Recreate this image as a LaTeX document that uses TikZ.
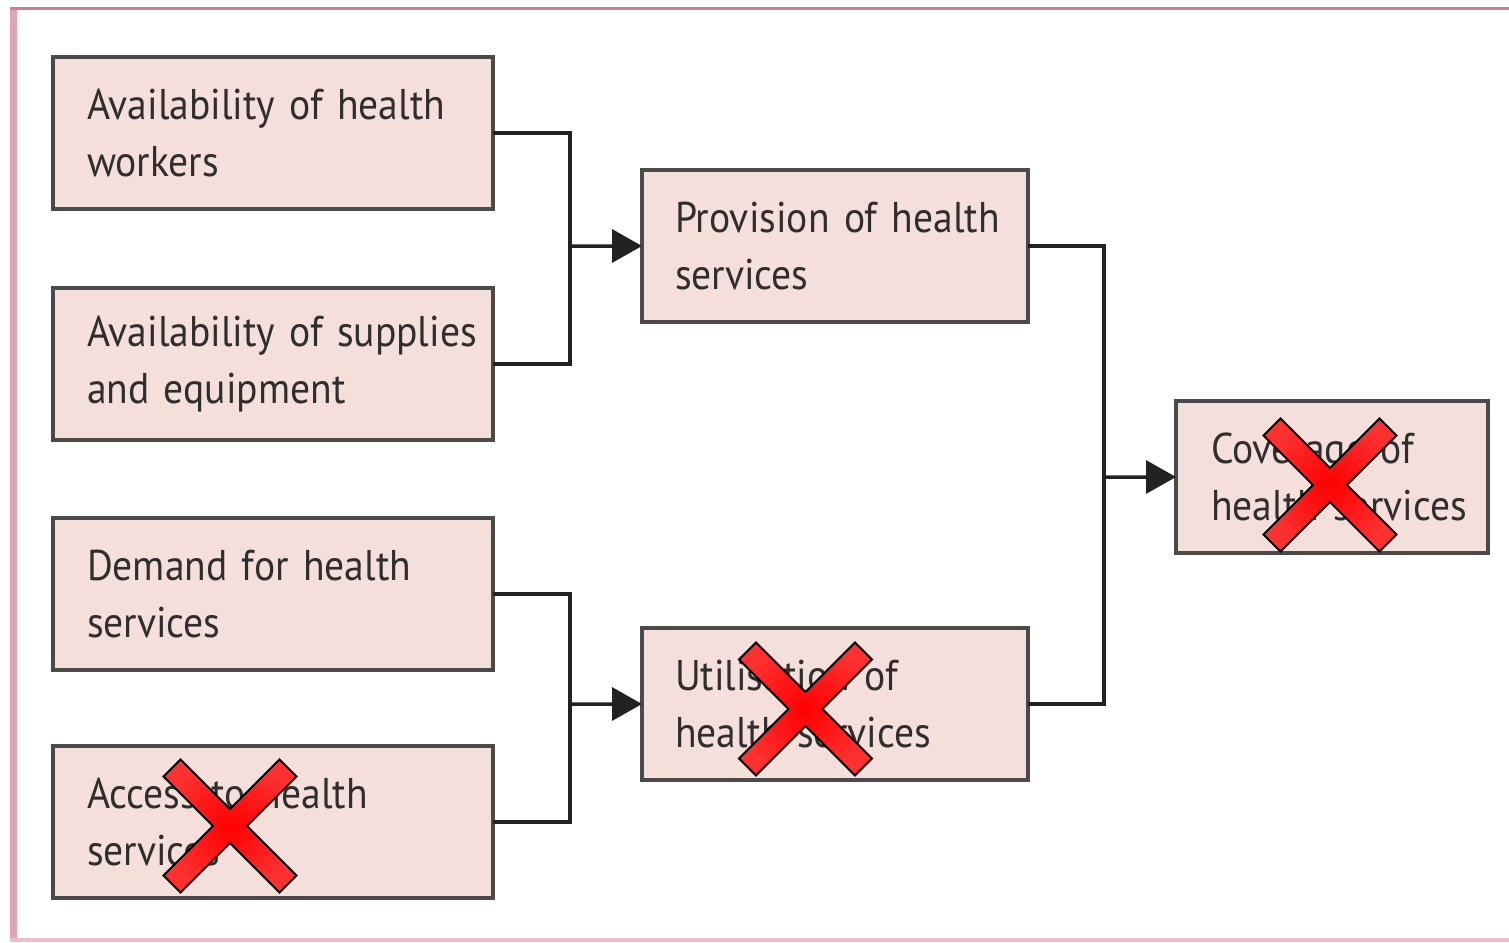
\documentclass[tikz,border=0pt]{standalone}
\usepackage{fontspec}
\setmainfont{PT Sans}[FakeStretch=0.92]
\usetikzlibrary{arrows.meta}
\definecolor{boxfill}{HTML}{F4DFDB}
\definecolor{boxline}{HTML}{4A4A4A}
\definecolor{conn}{HTML}{222222}
\definecolor{txt}{HTML}{2E2E2E}
\definecolor{frametop}{HTML}{D47C8E}
\definecolor{frameside}{HTML}{E3A4B1}
\definecolor{crossred}{HTML}{FF3030}
\tikzset{
  box/.style={draw=boxline, fill=boxfill, line width=3.5bp, rectangle,
    minimum width=440bp, minimum height=152bp, anchor=north west, outer sep=0pt,
    text width=372bp, align=left, inner sep=0pt, text=txt,
    font=\fontsize{43bp}{57bp}\selectfont},
  midbox/.style={box, minimum width=386bp, text width=320bp},
  endbox/.style={box, minimum width=312bp, text width=242bp},
  conline/.style={draw=conn, line width=3.5bp},
  conarrow/.style={conline, -{Triangle[length=30bp,width=33bp]}},
  redx/.pic={
    \draw[line width=2bp, draw=black, shading=radial, inner color=red, outer color=crossred]
      (-66.5,-49.5) -- (-49.5,-66.5) -- (0,-17) -- (49.5,-66.5) -- (66.5,-49.5)
      -- (17,0) -- (66.5,49.5) -- (49.5,66.5) -- (0,17) -- (-49.5,66.5)
      -- (-66.5,49.5) -- (-17,0) -- cycle;
  }
}
\begin{document}
\begin{tikzpicture}[x=1bp,y=-1bp]
\useasboundingbox (0,0) rectangle (1509,942);
% frame
\draw[frameside, line width=7bp] (13.5,8) -- (13.5,942);
\draw[frameside!70!white, line width=4bp] (10,940) -- (1509,940);
\draw[frametop, line width=3bp] (10,8.5) -- (1509,8.5);
% boxes
\node[box] (b1) at (53,57) {\mbox{Availability of health}\\\mbox{workers}};
\node[box] (b2) at (53,288) {\mbox{Availability of supplies}\\\mbox{and equipment}};
\node[box] (b3) at (53,518) {\mbox{Demand for health}\\\mbox{services}};
\node[box] (b4) at (53,746) {\mbox{Access to health}\\\mbox{services}};
\node[midbox] (b5) at (642,170) {\mbox{Provision of health}\\\mbox{services}};
\node[midbox] (b6) at (642,628) {\mbox{Utilisation of}\\\mbox{health services}};
\node[endbox] (b7) at (1176,401) {\mbox{Coverage of}\\\mbox{health services}};
% junctions
\coordinate (j1) at (570,246);
\coordinate (j2) at (570,704);
\coordinate (j3) at (1104,477);
\draw[conline] (b1.east) -| (j1) |- (b2.east);
\draw[conarrow] (j1) -- (b5.west);
\draw[conline] (b3.east) -| (j2) |- (b4.east);
\draw[conarrow] (j2) -- (b6.west);
\draw[conline] (b5.east) -| (j3) |- (b6.east);
\draw[conarrow] (j3) -- (b7.west);
% crosses
\pic at (230,826) {redx};
\pic at (805.5,709) {redx};
\pic at (1330,485) {redx};
\end{tikzpicture}
\end{document}
